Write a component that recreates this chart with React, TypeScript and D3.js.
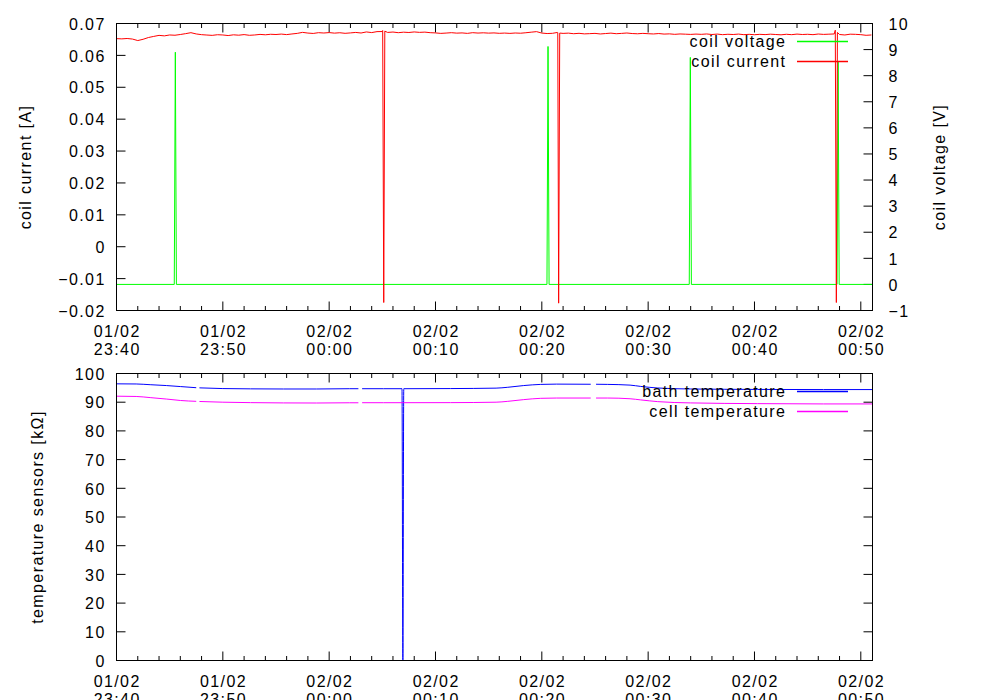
import React from "react";
import * as d3 from "d3";

// ---------- axes ----------
const X_START = "23:40:00";
const X_END = "00:51:06";
const X_MAJOR_STEP_MIN = 10;
const X_MINOR_STEP_MIN = 2;

const CURRENT_TICKS = [-0.02, -0.01, 0, 0.01, 0.02, 0.03, 0.04, 0.05, 0.06, 0.07];
const VOLTAGE_TICKS = [-1, 0, 1, 2, 3, 4, 5, 6, 7, 8, 9, 10];
const TEMP_TICKS = [0, 10, 20, 30, 40, 50, 60, 70, 80, 90, 100];

// ---------- coil current [A], sampled every 30 s from 23:40:00 ----------
const currentStart = "23:40:00";
const currentStepSec = 30;
const currentValues = [
  0.06525, 0.06518, 0.0653, 0.06512, 0.06465, 0.06505, 0.0656, 0.06595, 0.06628, 0.06612,
  0.0664, 0.06632, 0.06655, 0.06682, 0.06712, 0.06672, 0.0665, 0.06638, 0.06628, 0.06648,
  0.0664, 0.06622, 0.06645, 0.06633, 0.06652, 0.0663, 0.0664, 0.06658, 0.06646, 0.06662,
  0.06655, 0.06668, 0.06652, 0.06672, 0.0669, 0.06722, 0.067, 0.06688, 0.06712, 0.06702,
  0.06715, 0.06698, 0.0671, 0.06692, 0.06705, 0.0672, 0.06702, 0.06735, 0.06715, 0.06745,
  0.06748, 0.0672, 0.06732, 0.06712, 0.06728, 0.06718, 0.06735, 0.06722, 0.0673, 0.06712,
  0.06705, 0.0669, 0.067, 0.06712, 0.06698, 0.06705, 0.0669, 0.06712, 0.067, 0.06708,
  0.06698, 0.06705, 0.06692, 0.067, 0.0669, 0.06702, 0.06695, 0.0671, 0.06728, 0.06745,
  0.067, 0.06685, 0.06692, 0.0671, 0.0669, 0.06698, 0.0668, 0.06692, 0.06675, 0.06682,
  0.0669, 0.06672, 0.06685, 0.06698, 0.0668, 0.0669, 0.06702, 0.06685, 0.06678, 0.0669,
  0.0668, 0.06672, 0.06685, 0.06668, 0.06675, 0.0666, 0.06672, 0.06665, 0.06658, 0.06668,
  0.0666, 0.06672, 0.06655, 0.06668, 0.0665, 0.06662, 0.06655, 0.06668, 0.0665, 0.0666,
  0.06648, 0.0666, 0.06652, 0.06665, 0.06655, 0.06645, 0.06662, 0.0665, 0.06668, 0.06655,
  0.06662, 0.0665, 0.0667, 0.06658, 0.06665, 0.06672, 0.06655, 0.0664, 0.06665, 0.0666,
  0.0665, 0.0663, 0.0664,
];
// short drop-outs of the current
const currentDropTimes = [
  "00:05:02", "00:05:08", "00:05:14",
  "00:21:29", "00:21:35", "00:21:41",
  "00:47:36", "00:47:42", "00:47:48",
];
const currentDropValues = [
  0.0678, -0.0175, 0.0676,
  0.0672, -0.0177, 0.067,
  0.0679, -0.0175, 0.0672,
];

// ---------- coil voltage [V] ----------
const voltageTimes = [
  "23:40:00", "23:45:26", "23:45:32", "23:45:38",
  "00:20:29", "00:20:35", "00:20:41",
  "00:33:52", "00:33:58", "00:34:04",
  "00:47:46", "00:47:52", "00:47:58", "00:51:06",
];
const voltageValues = [0, 0, 8.9, 0, 0, 9.12, 0, 0, 8.7, 0, 0, 8.55, 0, 0];

// ---------- temperature sensors [kΩ] ----------
const tempTimes = [
  "23:40:00", "23:41:51", "23:43:10", "23:44:41", "23:46:00", "23:47:30", "23:47:39",
  "23:47:48", "23:50:00", "23:52:36", "23:55:42", "23:58:48", "00:01:54", "00:02:45",
  "00:02:55", "00:03:06", "00:05:06", "00:06:51", "00:06:56", "00:07:01", "00:11:24",
  "00:15:42", "00:16:48", "00:18:18", "00:19:54", "00:21:24", "00:24:36", "00:24:51",
  "00:25:06", "00:26:12", "00:28:18", "00:29:18", "00:30:54", "00:34:00", "00:40:18",
  "00:46:30", "00:51:06",
];
const bathValues = [
  96.4, 96.35, 96.1, 95.8, 95.45, 95.05, null,
  95.0, 94.75, 94.65, 94.6, 94.6, 94.7, 94.7,
  null, 94.7, 94.7, 94.7, 0, 94.7, 94.75,
  94.9, 95.2, 95.8, 96.2, 96.3, 96.25, null,
  96.25, 96.2, 95.95, 95.5, 94.95, 94.6, 94.45,
  94.4, 94.4,
];
const cellValues = [
  92.1, 92.0, 91.6, 91.1, 90.6, 90.3, null,
  90.25, 90.0, 89.85, 89.75, 89.72, 89.8, 89.8,
  null, 89.82, 89.82, 89.83, 89.83, 89.83, 89.85,
  90.0, 90.3, 90.9, 91.35, 91.45, 91.45, null,
  91.45, 91.45, 91.2, 90.8, 90.2, 89.75, 89.5,
  89.4, 89.4,
];

// ---------- helpers ----------
function parseT(s: string): Date {
  const [h, m, sec] = s.split(":").map(Number);
  return new Date(2011, 1, h < 12 ? 2 : 1, h, m, sec);
}

type Pt = { t: Date; v: number | null };

const FONT = "'Liberation Sans', Arial, Helvetica, sans-serif";
const LS = 1.4; // letter spacing
const FS = 16;

const X0 = 116.5;
const X1 = 872.5;
const TOP = { y0: 23.5, y1: 310.5 };
const BOT = { y0: 373.5, y1: 660.5 };
const MAJ = 9;
const MIN = 4.5;

const COLORS = { voltage: "#00ff00", current: "#ff0000", bath: "#0000ff", cell: "#ff00ff" };

export default function App() {
  const x = d3.scaleTime().domain([parseT(X_START), parseT(X_END)]).range([X0, X1]);

  const start = parseT(currentStart).getTime();
  const currentData: Pt[] = currentValues
    .map((v, i) => ({ t: new Date(start + i * currentStepSec * 1000), v }))
    .concat(currentDropTimes.map((s, i) => ({ t: parseT(s), v: currentDropValues[i] })))
    .sort((a, b) => a.t.getTime() - b.t.getTime());
  const voltageData: Pt[] = voltageTimes.map((s, i) => ({ t: parseT(s), v: voltageValues[i] }));
  const bathData: Pt[] = tempTimes.map((s, i) => ({ t: parseT(s), v: bathValues[i] }));
  const cellData: Pt[] = tempTimes.map((s, i) => ({ t: parseT(s), v: cellValues[i] }));

  const yCur = d3.scaleLinear().domain([-0.02, 0.07]).range([TOP.y1, TOP.y0]);
  const yVolt = d3.scaleLinear().domain([-1, 10]).range([TOP.y1, TOP.y0]);
  const yTemp = d3.scaleLinear().domain([0, 100]).range([BOT.y1, BOT.y0]);

  const lineFor = (ys: d3.ScaleLinear<number, number>, curve: d3.CurveFactory) =>
    d3
      .line<Pt>()
      .defined((d) => d.v !== null)
      .x((d) => x(d.t))
      .y((d) => ys(d.v as number))
      .curve(curve);

  const majorTicks = x.ticks(d3.timeMinute.every(X_MAJOR_STEP_MIN)!);
  const minorTicks = x
    .ticks(d3.timeMinute.every(X_MINOR_STEP_MIN)!)
    .filter((t) => t.getMinutes() % X_MAJOR_STEP_MIN !== 0);
  const fmtDate = d3.timeFormat("%d/%m");
  const fmtTime = d3.timeFormat("%H:%M");
  const fmtCur = (v: number) => (Math.abs(v) < 1e-9 ? "0" : d3.format(".2f")(v));
  const fmtInt = d3.format("d");

  const textProps = { fontFamily: FONT, fontSize: FS, letterSpacing: LS, fill: "#000" } as const;

  const xAxis = (p: { y0: number; y1: number }, key: string) => (
    <g key={key}>
      {majorTicks.map((t, i) => (
        <g key={"M" + i}>
          <line x1={x(t)} x2={x(t)} y1={p.y1} y2={p.y1 - MAJ} stroke="#000" />
          <line x1={x(t)} x2={x(t)} y1={p.y0} y2={p.y0 + MAJ} stroke="#000" />
          <text {...textProps} x={x(t) + LS / 2} y={p.y1 + 26.2} textAnchor="middle">
            {fmtDate(t)}
          </text>
          <text {...textProps} x={x(t) + LS / 2} y={p.y1 + 44.5} textAnchor="middle">
            {fmtTime(t)}
          </text>
        </g>
      ))}
      {minorTicks.map((t, i) => (
        <g key={"m" + i}>
          <line x1={x(t)} x2={x(t)} y1={p.y1} y2={p.y1 - MIN} stroke="#000" />
          <line x1={x(t)} x2={x(t)} y1={p.y0} y2={p.y0 + MIN} stroke="#000" />
        </g>
      ))}
    </g>
  );

  return (
    <svg width={1000} height={700} style={{ display: "block", position: "absolute", left: 0, top: 0, background: "#fff" }}>
      <defs>
        <clipPath id="clipTop">
          <rect x={X0} y={TOP.y0} width={X1 - X0} height={TOP.y1 - TOP.y0} />
        </clipPath>
        <clipPath id="clipBot">
          <rect x={X0} y={BOT.y0} width={X1 - X0} height={BOT.y1 - BOT.y0} />
        </clipPath>
      </defs>
      <rect x={0} y={0} width={1000} height={700} fill="#fff" />

      {/* ---------------- top plot ---------------- */}
      <g>
        {CURRENT_TICKS.map((v) => (
          <g key={"c" + v}>
            <line x1={X0} x2={X0 + MAJ} y1={yCur(v)} y2={yCur(v)} stroke="#000" />
            <text {...textProps} x={104.3 + LS} y={yCur(v) + 6.2} textAnchor="end">
              {fmtCur(v)}
            </text>
          </g>
        ))}
        {VOLTAGE_TICKS.map((v) => (
          <g key={"v" + v}>
            <line x1={X1} x2={X1 - MAJ} y1={yVolt(v)} y2={yVolt(v)} stroke="#000" />
            <text {...textProps} x={888.5} y={yVolt(v) + 6.2} textAnchor="start">
              {fmtInt(v)}
            </text>
          </g>
        ))}
        {xAxis(TOP, "xt")}

        <g clipPath="url(#clipTop)" fill="none" strokeWidth={1}>
          <path d={lineFor(yVolt, d3.curveLinear)(voltageData) || ""} stroke={COLORS.voltage} />
          <path d={lineFor(yCur, d3.curveLinear)(currentData) || ""} stroke={COLORS.current} />
        </g>

        {/* legend */}
        <text {...textProps} x={785 + LS} y={47.4} textAnchor="end">coil voltage</text>
        <line x1={797} x2={848} y1={41.5} y2={41.5} stroke={COLORS.voltage} strokeWidth={1.4} />
        <text {...textProps} x={785 + LS} y={67} textAnchor="end">coil current</text>
        <line x1={797} x2={848} y1={61.5} y2={61.5} stroke={COLORS.current} strokeWidth={1.4} />

        <rect x={X0} y={TOP.y0} width={X1 - X0} height={TOP.y1 - TOP.y0} fill="none" stroke="#000" />

        <text {...textProps} transform={`translate(31,${(TOP.y0 + TOP.y1) / 2}) rotate(-90)`} textAnchor="middle">
          coil current [A]
        </text>
        <text {...textProps} transform={`translate(945,${(TOP.y0 + TOP.y1) / 2}) rotate(-90)`} textAnchor="middle">
          coil voltage [V]
        </text>
      </g>

      {/* ---------------- bottom plot ---------------- */}
      <g>
        {TEMP_TICKS.map((v) => (
          <g key={"t" + v}>
            <line x1={X0} x2={X0 + MAJ} y1={yTemp(v)} y2={yTemp(v)} stroke="#000" />
            <line x1={X1} x2={X1 - MAJ} y1={yTemp(v)} y2={yTemp(v)} stroke="#000" />
            <text {...textProps} x={104.3 + LS} y={yTemp(v) + 6.2} textAnchor="end">
              {fmtInt(v)}
            </text>
          </g>
        ))}
        {xAxis(BOT, "xb")}

        <g clipPath="url(#clipBot)" fill="none" strokeWidth={1}>
          <path d={lineFor(yTemp, d3.curveMonotoneX)(bathData) || ""} stroke={COLORS.bath} />
          <path d={lineFor(yTemp, d3.curveMonotoneX)(cellData) || ""} stroke={COLORS.cell} />
        </g>

        <text {...textProps} x={785 + LS} y={397.4} textAnchor="end">bath temperature</text>
        <line x1={797} x2={848} y1={391.5} y2={391.5} stroke={COLORS.bath} strokeWidth={1.4} />
        <text {...textProps} x={785 + LS} y={417.4} textAnchor="end">cell temperature</text>
        <line x1={797} x2={848} y1={411.5} y2={411.5} stroke={COLORS.cell} strokeWidth={1.4} />

        <rect x={X0} y={BOT.y0} width={X1 - X0} height={BOT.y1 - BOT.y0} fill="none" stroke="#000" />

        <text {...textProps} transform={`translate(43,${(BOT.y0 + BOT.y1) / 2}) rotate(-90)`} textAnchor="middle">
          temperature sensors [kΩ]
        </text>
      </g>
    </svg>
  );
}
